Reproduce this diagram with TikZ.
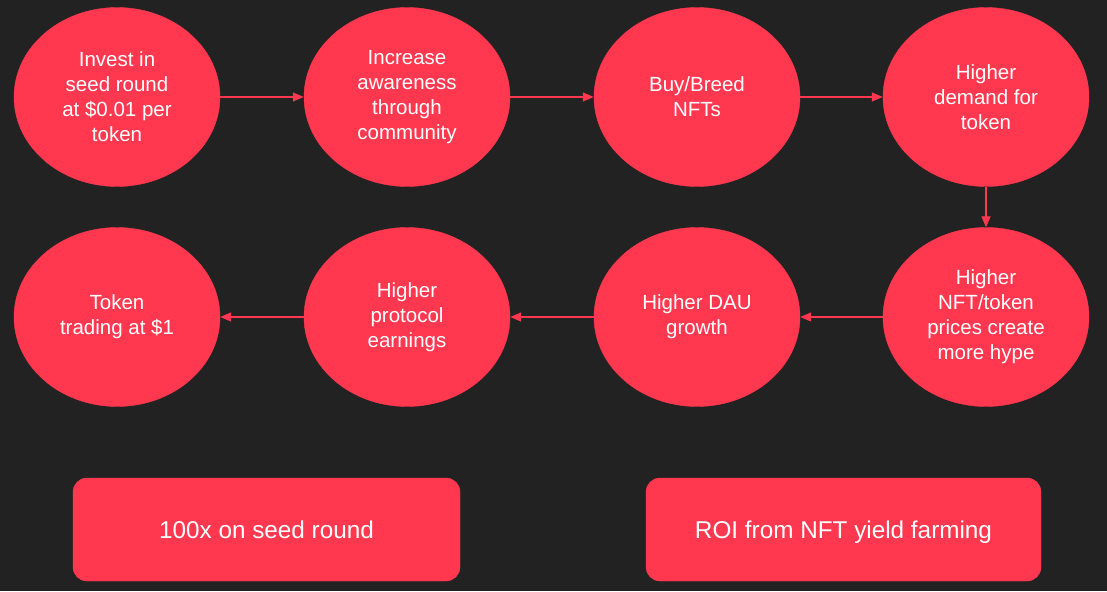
\documentclass[tikz,border=0pt]{standalone}
\usepackage{fontspec}
\setmainfont{Liberation Sans}
\usetikzlibrary{shapes.geometric,arrows.meta}
\definecolor{bg}{HTML}{222222}
\definecolor{rd}{HTML}{FF3850}
\tikzset{
  ell/.style={ellipse, fill=rd, draw=rd, minimum width=206pt, minimum height=179pt, inner sep=0pt,
    text=white, align=center, font=\fontsize{20.5pt}{25pt}\selectfont},
  box/.style={rectangle, rounded corners=14pt, fill=rd, draw=rd, minimum height=103pt,
    text height=20pt, text depth=2pt,
    text=white, font=\fontsize{24.3pt}{28pt}\selectfont},
  conn/.style={draw=rd, line width=1.3pt, -{Triangle[length=11pt,width=9pt]}}
}
\begin{document}
\begin{tikzpicture}[x=1pt,y=-1pt]
\fill[bg] (0,0) rectangle (1107,591);
\useasboundingbox (0,0) rectangle (1107,591);
\node[ell] (a) at (117,97) {Invest in\\seed round\\at \$0.01 per\\token};
\node[ell] (b) at (407,97) {Increase\\awareness\\through\\community};
\node[ell] (c) at (697,97) {Buy/Breed\\NFTs};
\node[ell] (d) at (986,97) {Higher\\demand for\\token};
\node[ell] (e) at (986,317) {Higher\\NFT/token\\prices create\\more hype};
\node[ell] (f) at (697,317) {Higher DAU\\growth};
\node[ell] (g) at (407,317) {Higher\\protocol\\earnings};
\node[ell] (h) at (117,317) {Token\\trading at \$1};
\node[box, minimum width=387pt] (r1) at (266.5,529.5) {100x on seed round};
\node[box, minimum width=395pt] (r2) at (843.5,529.5) {ROI from NFT yield farming};
\draw[conn] (a) -- (b);
\draw[conn] (b) -- (c);
\draw[conn] (c) -- (d);
\draw[conn] (d) -- (e);
\draw[conn] (e) -- (f);
\draw[conn] (f) -- (g);
\draw[conn] (g) -- (h);
\end{tikzpicture}
\end{document}
